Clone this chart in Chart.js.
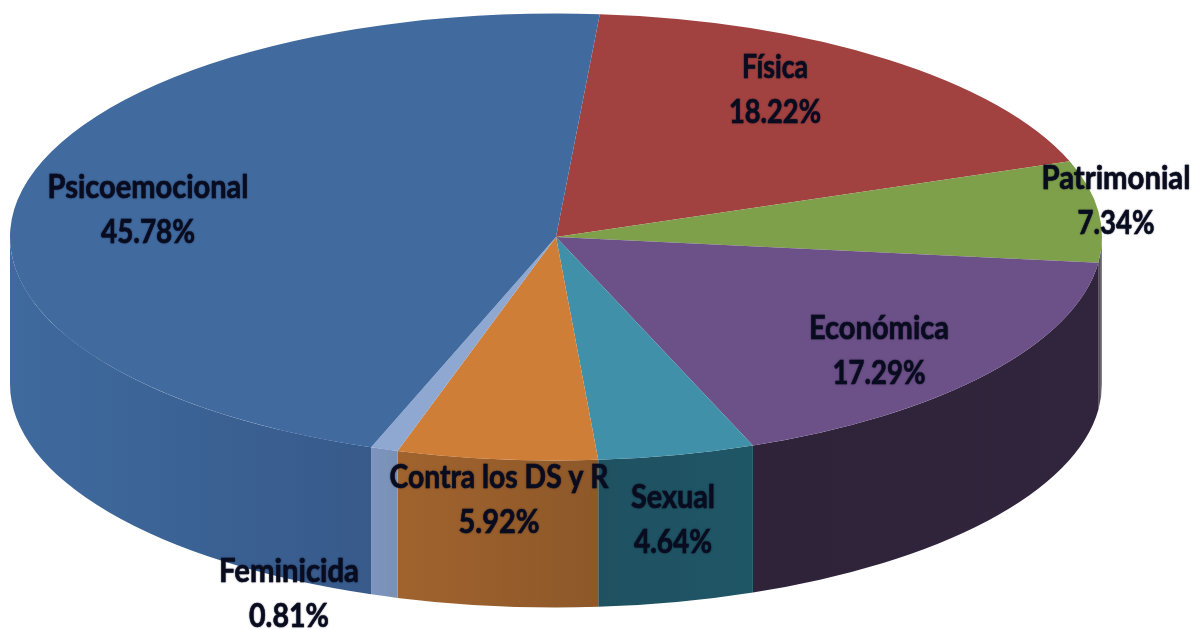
<!DOCTYPE html>
<html><head><meta charset="utf-8">
<style>html,body{margin:0;padding:0;background:#fff;overflow:hidden}canvas{display:block}</style>
<script src="https://cdn.jsdelivr.net/npm/chart.js@4"></script>
</head><body><canvas id="c" width="1194" height="629"></canvas>
<script>
const categories = ['Física','Patrimonial','Económica','Sexual','Contra los DS y R','Feminicida','Psicoemocional'];
const percentages = [18.22,7.34,17.29,4.64,5.92,0.81,45.78];
const topColors = ['#A14240','#7FA04B','#6C5088','#3F90A8','#CF7E37','#8EA8D1','#416A9F'];
const sideColors = [
  ['#6b2c2b','#6b2c2b'],['#3a3044','#8a8a8a'],['#2e2339','#31253d'],
  ['#1f5161','#1f5666'],['#a0632e','#8e5829'],['#7c95bf','#7a90b5'],
  ['#3f6a9e','#375a8a']];
const labelCenters = [[775,68],[1116,179],[879,329],[673,498],[499,478],[289,572],[148,188]];
const labelWidths = [66,149,140,84,219,140,201];
const valueWidths = [92,77,93,78,81,80,94];
const valueGap = 45;
const ROTATION = 4.6, CX = 556, CY = 237, RX = 546, RY = 223.5, DEPTH = 147;

const pie3d = {
  id:'pie3d',
  beforeDatasetDraw(chart){
    const ctx = chart.ctx, arcs = chart.getDatasetMeta(0).data;
    const TWO = Math.PI*2;
    // side walls, behind the top surface
    arcs.forEach((el,i)=>{
      let s = el.startAngle, e = el.endAngle;
      const norm = a => ((a%TWO)+TWO)%TWO;
      const len = e-s; s = norm(s); e = s+len;
      const ranges = [];
      [[0,Math.PI],[TWO,TWO+Math.PI]].forEach(([lo,hi])=>{
        const a=Math.max(s,lo), b=Math.min(e,hi);
        if(b>a) ranges.push([a,b]);
      });
      ranges.forEach(([a,b])=>{
        const x1 = CX+RX*Math.cos(a), x2 = CX+RX*Math.cos(b);
        const g = ctx.createLinearGradient(Math.min(x1,x2),0,Math.max(x1,x2),0);
        g.addColorStop(0,sideColors[i][0]); g.addColorStop(1,sideColors[i][1]);
        ctx.save();
        ctx.beginPath();
        ctx.ellipse(CX,CY,RX,RY,0,a,b,false);
        ctx.ellipse(CX,CY+DEPTH,RX,RY,0,b,a,true);
        ctx.closePath();
        ctx.fillStyle = g; ctx.fill();
        ctx.restore();
      });
    });
    // squash the library's circle into the ellipse of the top surface
    const el = arcs[0];
    ctx.save();
    ctx.translate(CX,CY);
    ctx.scale(RX/el.outerRadius,RY/el.outerRadius);
    ctx.translate(-el.x,-el.y);
  },
  afterDatasetDraw(chart){ chart.ctx.restore(); },
  afterDraw(chart){
    const ctx = chart.ctx;
    ctx.save();
    ctx.font = 'bold 32px Lato';
    ctx.fillStyle = '#0a0d20';
    ctx.strokeStyle = '#0a0d20';
    ctx.lineWidth = 0.5;
    ctx.textAlign = 'center';
    ctx.textBaseline = 'middle';
    ctx.shadowColor = 'rgba(10,13,32,.55)';
    ctx.shadowBlur = 1.5;
    categories.forEach((name,i)=>{
      const [x,y] = labelCenters[i];
      const val = percentages[i].toFixed(2)+'%';
      ctx.fillText(name,x,y,labelWidths[i]);
      ctx.strokeText(name,x,y,labelWidths[i]);
      ctx.fillText(val,x,y+valueGap,valueWidths[i]);
      ctx.strokeText(val,x,y+valueGap,valueWidths[i]);
    });
    ctx.restore();
  }
};

new Chart(document.getElementById('c'),{
  type:'pie',
  data:{labels:categories,datasets:[{data:percentages,backgroundColor:topColors,borderWidth:0,clip:false}]},
  options:{
    responsive:false,animation:false,rotation:ROTATION,
    layout:{padding:0},
    plugins:{legend:{display:false},tooltip:{enabled:false},title:{display:false}},
    events:[]
  },
  plugins:[pie3d]
});
</script></body></html>
